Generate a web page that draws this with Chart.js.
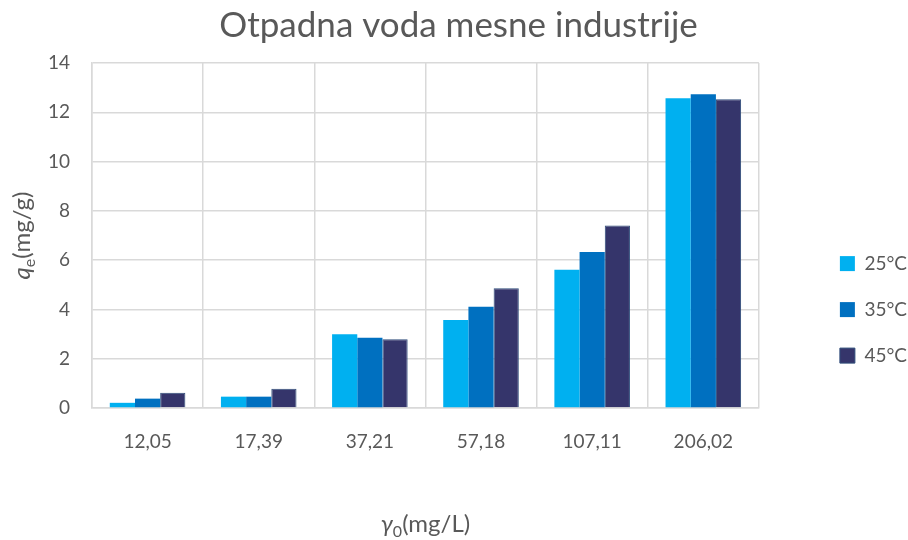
<!DOCTYPE html>
<html>
<head>
<meta charset="utf-8">
<script src="https://cdn.jsdelivr.net/npm/chart.js@4/dist/chart.umd.min.js"></script>
<style>
  html, body { margin: 0; padding: 0; background: #ffffff; }
  #wrap { width: 908px; height: 540px; position: relative; }
</style>
</head>
<body>
<div id="wrap"><canvas id="qeChart"></canvas></div>
<script>
// Početne koncentracije (x os) i kapacitet adsorpcije po temperaturi
const categories = ['12,05', '17,39', '37,21', '57,18', '107,11', '206,02'];
const seriesLabels = ['25°C', '35°C', '45°C'];
const qe25 = [0.21, 0.46, 2.99, 3.57, 5.61, 12.57];
const qe35 = [0.38, 0.46, 2.85, 4.11, 6.33, 12.73];
const qe45 = [0.62, 0.78, 2.79, 4.86, 7.41, 12.53];
const yTicks = [0, 2, 4, 6, 8, 10, 12, 14];

const FONT = "Lato, 'Open Sans', sans-serif";
const TEXT = '#595959';

Chart.defaults.font.family = FONT;
Chart.defaults.color = TEXT;

// Naslovi osi s indeksima (q_e, γ_0) crtaju se ručno
function drawParts(ctx, parts, cx, baseline) {
    let total = 0;
    parts.forEach(p => { ctx.font = p.font; p.w = ctx.measureText(p.t).width; total += p.w; });
    let x = cx - total / 2;
    parts.forEach(p => { ctx.font = p.font; ctx.fillText(p.t, x, baseline + p.dy); x += p.w; });
}

const axisTitles = {
    id: 'axisTitles',
    afterDraw(chart) {
        const { ctx, chartArea } = chart;
        ctx.save();
        ctx.fillStyle = TEXT;
        ctx.textBaseline = 'alphabetic';

        // x os: γ0(mg/L)
        drawParts(ctx, [
            { t: 'γ', font: 'italic 24px ' + FONT, dy: 0 },
            { t: '0', font: '16px ' + FONT, dy: 5 },
            { t: '(mg/L)', font: '24px ' + FONT, dy: 0 }
        ], (chartArea.left + chartArea.right) / 2, 532);

        // y os: qe(mg/g), zaokrenuto
        ctx.translate(30, (chartArea.top + chartArea.bottom) / 2);
        ctx.rotate(-Math.PI / 2);
        drawParts(ctx, [
            { t: 'q', font: 'italic 24px ' + FONT, dy: 0 },
            { t: 'e', font: '16px ' + FONT, dy: 5 },
            { t: '(mg/g)', font: '24px ' + FONT, dy: 0 }
        ], 0, 0);
        ctx.restore();
    }
};

const ctx = document.getElementById('qeChart').getContext('2d');
new Chart(ctx, {
    type: 'bar',
    data: {
        labels: categories,
        datasets: [
            { label: seriesLabels[0], data: qe25, backgroundColor: '#00b0f0', borderColor: '#00b0f0', borderWidth: 0 },
            { label: seriesLabels[1], data: qe35, backgroundColor: '#0070c0', borderColor: '#0070c0', borderWidth: 0 },
            { label: seriesLabels[2], data: qe45, backgroundColor: '#35356b', borderColor: '#2f4d7a', borderWidth: 1 }
        ]
    },
    options: {
        responsive: true,
        maintainAspectRatio: false,
        animation: false,
        datasets: {
            bar: { categoryPercentage: 0.68, barPercentage: 1.0 }
        },
        layout: { padding: { left: 0, right: -9, top: 0, bottom: 0 } },
        plugins: {
            title: {
                display: true,
                text: 'Otpadna voda mesne industrije',
                color: TEXT,
                font: { size: 35, weight: 'normal' },
                padding: { top: 5, bottom: 16 }
            },
            legend: {
                position: 'right',
                align: 'center',
                // prazan naslov legende spušta stavke niže
                title: { display: true, text: '', font: { size: 1 }, padding: { top: 78, bottom: 0 } },
                labels: {
                    boxWidth: 15,
                    boxHeight: 15,
                    padding: 27,
                    color: TEXT,
                    font: { size: 19 }
                }
            },
            tooltip: { enabled: false }
        },
        scales: {
            x: {
                grid: { color: '#d9d9d9', lineWidth: 1.5, drawTicks: false },
                border: { color: '#d9d9d9', width: 1.5 },
                ticks: { color: TEXT, font: { size: 19 }, padding: 22 },
                afterFit(scale) { scale.height = 132; }
            },
            y: {
                min: 0,
                max: 14,
                afterBuildTicks(scale) { scale.ticks = yTicks.map(v => ({ value: v })); },
                grid: { color: '#d9d9d9', lineWidth: 1.5, drawTicks: false },
                border: { color: '#d9d9d9', width: 1.5 },
                ticks: { color: TEXT, font: { size: 19 }, padding: 22 },
                afterFit(scale) { scale.width = 92; }
            },
            gap: {
                type: 'linear',
                position: 'right',
                display: true,
                grid: { display: false },
                border: { display: false },
                ticks: { display: false },
                afterFit(scale) { scale.width = 54; }
            }
        }
    },
    plugins: [axisTitles]
});
</script>
</body>
</html>
